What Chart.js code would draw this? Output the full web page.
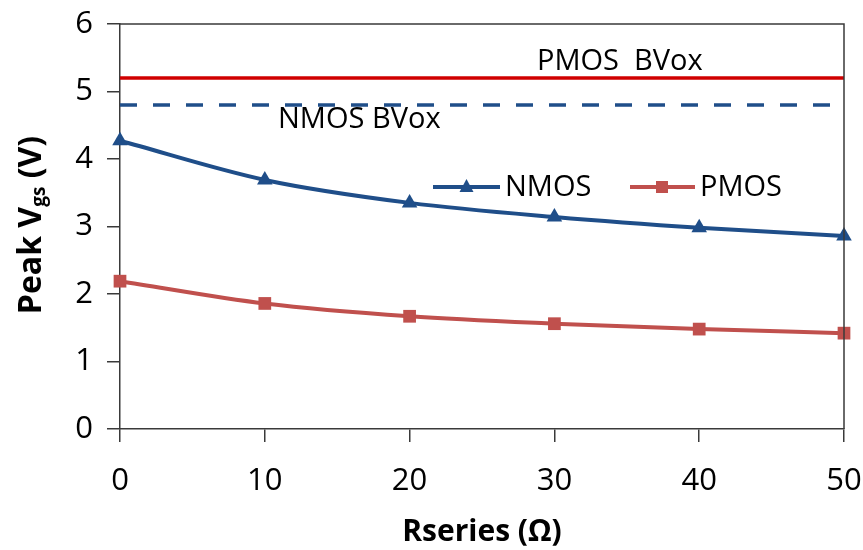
<!DOCTYPE html>
<html>
<head>
<meta charset="utf-8">
<script src="https://cdn.jsdelivr.net/npm/chart.js@4/dist/chart.umd.min.js"></script>
<style>
html,body{margin:0;padding:0;background:#fff;}
#wrap{width:863px;height:550px;position:relative;}
</style>
</head>
<body>
<div id="wrap"><canvas id="c" width="863" height="550"></canvas></div>
<script>
const rseries = [0, 10, 20, 30, 40, 50];
const nmosVgs = [4.27, 3.69, 3.35, 3.14, 2.98, 2.86];
const pmosVgs = [2.19, 1.86, 1.67, 1.56, 1.48, 1.42];
const pmosBVox = 5.2;
const nmosBVox = 4.8;
const seriesNames = ['NMOS', 'PMOS'];
const refLabels = ['PMOS  BVox', 'NMOS BVox'];
const xTitle = 'Rseries (Ω)';
const yTitleParts = ['Peak V', 'gs', ' (V)'];

const FONT = "'Open Sans', 'DejaVu Sans', sans-serif";
const AXIS = '#3a3a3a';
const BLUE = '#1F4E89';
const RED = '#C0504D';
const BRIGHTRED = '#D00000';

const toXY = (xs, ys) => xs.map((x, i) => ({x: x, y: ys[i]}));
const xMin = rseries[0], xMax = rseries[rseries.length - 1];

const annot = {
  id: 'annot',
  afterDraw(chart) {
    const ctx = chart.ctx;
    const a = chart.chartArea;
    ctx.save();
    ctx.strokeStyle = AXIS; ctx.lineWidth = 1.5;
    ctx.beginPath();
    ctx.moveTo(a.left, a.top); ctx.lineTo(a.right, a.top); ctx.lineTo(a.right, a.bottom);
    ctx.stroke();

    ctx.fillStyle = '#000';
    ctx.textBaseline = 'alphabetic';
    ctx.textAlign = 'left';
    ctx.font = '29px ' + FONT;
    ctx.fillText(refLabels[0], 537, 70);
    ctx.fillText(refLabels[1], 278, 128);

    // legend
    const ly = 187;
    ctx.lineWidth = 4;
    ctx.strokeStyle = BLUE;
    ctx.beginPath(); ctx.moveTo(433, ly); ctx.lineTo(500, ly); ctx.stroke();
    ctx.fillStyle = BLUE;
    ctx.beginPath(); ctx.moveTo(466.5, ly - 8); ctx.lineTo(473.5, ly + 5); ctx.lineTo(459.5, ly + 5); ctx.closePath(); ctx.fill();
    ctx.strokeStyle = RED;
    ctx.beginPath(); ctx.moveTo(630, ly); ctx.lineTo(695, ly); ctx.stroke();
    ctx.fillStyle = RED;
    ctx.fillRect(656, ly - 6, 12, 12);
    ctx.fillStyle = '#000';
    ctx.textBaseline = 'middle';
    ctx.fillText(seriesNames[0], 505, ly + 1);
    ctx.fillText(seriesNames[1], 700, ly + 1);

    // x title
    ctx.font = 'bold 30px ' + FONT;
    ctx.textAlign = 'center';
    ctx.textBaseline = 'alphabetic';
    ctx.fillText(xTitle, (a.left + a.right) / 2, 541);

    // y title (rotated with subscript)
    ctx.translate(41, 225);
    ctx.rotate(-Math.PI / 2);
    const big = 'bold 32px ' + FONT, small = 'bold 19px ' + FONT;
    ctx.font = big; const w0 = ctx.measureText(yTitleParts[0]).width;
    ctx.font = small; const w1 = ctx.measureText(yTitleParts[1]).width;
    ctx.font = big; const w2 = ctx.measureText(yTitleParts[2]).width;
    let x0 = -(w0 + w1 + w2) / 2;
    ctx.textAlign = 'left';
    ctx.font = big; ctx.fillText(yTitleParts[0], x0, 0);
    ctx.font = small; ctx.fillText(yTitleParts[1], x0 + w0, 4);
    ctx.font = big; ctx.fillText(yTitleParts[2], x0 + w0 + w1, 0);
    ctx.restore();
  }
};

new Chart(document.getElementById('c'), {
  type: 'line',
  data: {
    datasets: [
      {
        label: refLabels[0],
        data: toXY([xMin, xMax], [pmosBVox, pmosBVox]),
        borderColor: BRIGHTRED, borderWidth: 3.5, pointRadius: 0, tension: 0
      },
      {
        label: refLabels[1],
        data: toXY([xMin, xMax], [nmosBVox, nmosBVox]),
        borderColor: BLUE, borderWidth: 3.5, borderDash: [17, 16], pointRadius: 0, tension: 0
      },
      {
        label: seriesNames[0],
        data: toXY(rseries, nmosVgs),
        borderColor: BLUE, backgroundColor: BLUE, borderWidth: 4,
        pointStyle: 'triangle', pointRadius: 9, pointBorderWidth: 0,
        cubicInterpolationMode: 'monotone', clip: false
      },
      {
        label: seriesNames[1],
        data: toXY(rseries, pmosVgs),
        borderColor: RED, backgroundColor: RED, borderWidth: 4,
        pointStyle: 'rect', pointRadius: 9, pointBorderWidth: 0,
        cubicInterpolationMode: 'monotone', clip: false
      }
    ]
  },
  options: {
    responsive: false,
    animation: false,
    layout: {padding: {top: 24, right: 19, left: 0, bottom: 0}},
    plugins: {legend: {display: false}, tooltip: {enabled: false}},
    scales: {
      x: {
        type: 'linear', min: 0, max: 50,
        ticks: {stepSize: 10, color: '#000', font: {family: FONT, size: 31}, padding: 21, maxRotation: 0},
        grid: {drawOnChartArea: false, drawTicks: true, tickLength: 13, color: AXIS, lineWidth: 1.5},
        border: {display: true, color: AXIS, width: 1.5},
        afterFit: s => { s.height = 121; s.paddingLeft = 0; s.paddingRight = 0; }
      },
      y: {
        min: 0, max: 6,
        ticks: {stepSize: 1, color: '#000', font: {family: FONT, size: 31}, padding: 14},
        grid: {drawOnChartArea: false, drawTicks: true, tickLength: 13, color: AXIS, lineWidth: 1.5},
        border: {display: true, color: AXIS, width: 1.5},
        afterFit: s => { s.width = 120; s.paddingTop = 0; s.paddingBottom = 0; }
      }
    }
  },
  plugins: [annot]
});
</script>
</body>
</html>
